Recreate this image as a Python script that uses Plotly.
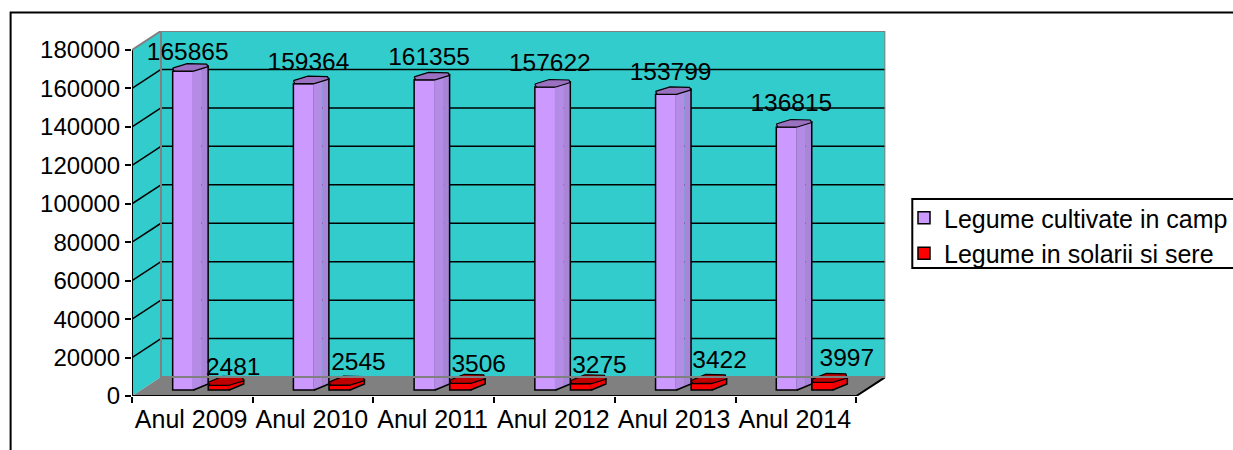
import plotly.graph_objects as go

years = ["Anul 2009", "Anul 2010", "Anul 2011", "Anul 2012", "Anul 2013", "Anul 2014"]
camp = [165865, 159364, 161355, 157622, 153799, 136815]
solarii = [2481, 2545, 3506, 3275, 3422, 3997]
camp_label_lift = [9200, 10500, 11000, 11400, 10700, 11300]
solarii_label_lift = [8500, 11000, 9000, 9000, 11000, 11500]
solarii_label_shift = [25, 29.5, 29, 29, 28.5, 35]
y_ticks = list(range(0, 180001, 20000))

# Projection of the pseudo-3D box, in axis units
PX_X = 120.8          # pixels per category
PX_Y = 347 / 180000   # pixels per value unit
DX = 29 / PX_X
DY = 19 / PX_Y
YMAX = 180000
n = len(years)
BASE = 6 / PX_Y       # bars stand slightly back from the front edge
W = 21 / PX_X
SIDE_DX = 14.5 / PX_X
SIDE_DY = 6 / PX_Y

PAPER_W = 1233 - 132

def rx(px):
    return px / PX_X
def ry(px):
    return px / PX_Y
def paper_x(px):
    return (px - 132) / PAPER_W
def paper_y(py):
    return (396 - py) / 365

WALL = "#33CCCC"
GREY = "#808080"

def poly(xs, ys):
    d = f"M{xs[0]},{ys[0]}" + "".join(f"L{a},{b}" for a, b in zip(xs[1:], ys[1:])) + "Z"
    return d

shapes = [
    dict(type="path", layer="below", xref="x", yref="y", fillcolor=WALL, line=dict(width=0),
         path=poly([0, DX, DX, 0], [0, DY, YMAX + DY, YMAX])),
    dict(type="path", layer="below", xref="x", yref="y", fillcolor=WALL, line=dict(width=0),
         path=poly([DX, n + DX, n + DX, DX], [DY, DY, YMAX + DY, YMAX + DY])),
    dict(type="path", layer="below", xref="x", yref="y", fillcolor=GREY, line=dict(width=0),
         path=poly([0, DX, n + DX, n], [0, DY, DY, 0])),
]
for v in y_ticks[1:-1]:
    shapes.append(dict(type="line", layer="below", xref="x", yref="y", x0=0, y0=v, x1=DX, y1=v + DY,
                       line=dict(color="black", width=1.5)))
    shapes.append(dict(type="line", layer="below", xref="x", yref="y", x0=DX, y0=v + DY, x1=n + DX, y1=v + DY,
                       line=dict(color="black", width=1.5)))

# frame and legend box
shapes.append(dict(type="path", xref="paper", yref="paper", line=dict(color="black", width=2),
                   path=f"M{paper_x(10.5)},{paper_y(470)}L{paper_x(10.5)},{paper_y(12.5)}L{paper_x(1260)},{paper_y(12.5)}"))
shapes.append(dict(type="path", xref="paper", yref="paper", line=dict(color="black", width=2),
                   path=f"M{paper_x(1260)},{paper_y(199)}L{paper_x(913)},{paper_y(199)}L{paper_x(913)},{paper_y(268)}L{paper_x(1260)},{paper_y(268)}"))

fig = go.Figure()

x_camp = [i + rx(40.7) for i in range(n)]
x_sol = [i + rx(76.3) for i in range(n)]

fig.add_trace(go.Bar(x=[a + W / 2 for a in x_camp], y=camp, base=BASE, width=W, name="Legume cultivate in camp",
                     marker=dict(color="#CC99FF", line=dict(color="black", width=1.5)), legendgroup="a"))
fig.add_trace(go.Bar(x=[a + W / 2 for a in x_sol], y=solarii, base=BASE, width=W, name="Legume in solarii si sere",
                     marker=dict(color="#FF0000", line=dict(color="black", width=1.5)), legendgroup="b"))

def prism(xs, values, side1, side2, top, top_h):
    for x0, v in zip(xs, values):
        xr = x0 + W
        t = BASE + v
        m = xr + SIDE_DX * 0.55
        e = xr + SIDE_DX
        xl = xr - rx(1)
        # side face in two tones (also hides the seam of the front face)
        fig.add_trace(go.Scatter(x=[xl, m, m, xl, xl], y=[BASE + ry(0.8), BASE + SIDE_DY * 0.55, t + SIDE_DY * 0.55, t, BASE + ry(0.8)],
                                 mode="lines", fill="toself", fillcolor=side1, line=dict(width=0),
                                 showlegend=False, hoverinfo="skip"))
        fig.add_trace(go.Scatter(x=[m, e, e, m, m], y=[BASE + SIDE_DY * 0.55, BASE + SIDE_DY, t + SIDE_DY, t + SIDE_DY * 0.55, BASE + SIDE_DY * 0.55],
                                 mode="lines", fill="toself", fillcolor=side2, line=dict(width=0),
                                 showlegend=False, hoverinfo="skip"))
        # outline of side: bottom & right
        fig.add_trace(go.Scatter(x=[xr, e, e], y=[BASE, BASE + SIDE_DY, t + SIDE_DY], mode="lines",
                                 line=dict(color="black", width=1.5), showlegend=False, hoverinfo="skip"))
        # top hexagon
        hx = [x0, x0 + rx(1.5), xr, e, e - rx(1.5), x0 + rx(14.5), x0]
        hy = [t + ry(3), t, t, t + ry(4.5), t + ry(top_h - 0.5), t + ry(top_h), t + ry(3)]
        fig.add_trace(go.Scatter(x=hx, y=hy, mode="lines", fill="toself", fillcolor=top,
                                 line=dict(color="black", width=1.2), showlegend=False, hoverinfo="skip"))

prism(x_camp, camp, "#B48CE6", "#A985D8", "#9A70C0", 7.5)
prism(x_sol, solarii, "#F00000", "#F00000", "#C00000", 9)

# axes lines
fig.add_trace(go.Scatter(x=[0, 0], y=[0, YMAX], mode="lines", line=dict(color="black", width=2),
                         cliponaxis=False, showlegend=False, hoverinfo="skip"))
fig.add_trace(go.Scatter(x=[0, n, n + DX], y=[0, 0, DY], mode="lines", line=dict(color="black", width=2),
                         cliponaxis=False, showlegend=False, hoverinfo="skip"))
# wall outline
fig.add_trace(go.Scatter(x=[0, DX, n + DX, n + DX], y=[YMAX, YMAX + DY, YMAX + DY, DY], mode="lines",
                         line=dict(color=GREY, width=2), cliponaxis=False, showlegend=False, hoverinfo="skip"))
fig.add_trace(go.Scatter(x=[DX, DX, n + DX], y=[YMAX + DY, DY, DY], mode="lines",
                         line=dict(color=GREY, width=2), cliponaxis=False, showlegend=False, hoverinfo="skip"))

# data labels
FONT = "Liberation Sans"
fig.add_trace(go.Scatter(x=[a + rx(15) for a in x_camp], y=[BASE + v + l for v, l in zip(camp, camp_label_lift)],
                         mode="text", text=[str(v) for v in camp], textposition="middle center",
                         textfont=dict(family=FONT, size=24.5, color="black"), cliponaxis=False,
                         showlegend=False, hoverinfo="skip"))
fig.add_trace(go.Scatter(x=[a + rx(s) for a, s in zip(x_sol, solarii_label_shift)],
                         y=[BASE + v + l for v, l in zip(solarii, solarii_label_lift)],
                         mode="text", text=[str(v) for v in solarii], textposition="middle center",
                         textfont=dict(family=FONT, size=24.5, color="black"), cliponaxis=False,
                         showlegend=False, hoverinfo="skip"))

fig.update_layout(
    width=1233, height=450, autosize=False,
    margin=dict(l=132, r=0, t=31, b=54),
    paper_bgcolor="white", plot_bgcolor="white",
    barmode="overlay", shapes=shapes,
    font=dict(family=FONT, size=24, color="black"),
    xaxis=dict(domain=[0, 754 / PAPER_W], range=[0, n + DX], tickmode="array", tickvals=[i + 0.49 for i in range(n)], ticktext=years,
               ticks="outside", ticklen=1, tickcolor="rgba(0,0,0,0)", showgrid=False, zeroline=False, showline=False,
               minor=dict(tickmode="array", tickvals=list(range(n + 1)), ticks="outside", ticklen=6,
                          tickcolor="black", tickwidth=2, showgrid=False),
               tickfont=dict(family=FONT, size=25), tickangle=0, ticklabelstandoff=0),
    yaxis=dict(range=[0, YMAX + DY], tickmode="array", tickvals=y_ticks, ticks="outside", ticklen=6,
               tickwidth=2, tickcolor="black", showgrid=False, zeroline=False, showline=False,
               tickfont=dict(family=FONT, size=24), tickformat="d", ticklabelstandoff=0),
    legend=dict(x=paper_x(905), y=paper_y(195), xanchor="left", yanchor="top",
                bgcolor="rgba(0,0,0,0)", borderwidth=0, font=dict(family=FONT, size=25, color="black"),
                tracegroupgap=0, itemwidth=30, entrywidth=280, entrywidthmode="pixels"),
)

fig.write_html("out.html", post_script="document.body.style.margin='0';", config=dict(displayModeBar=False))
